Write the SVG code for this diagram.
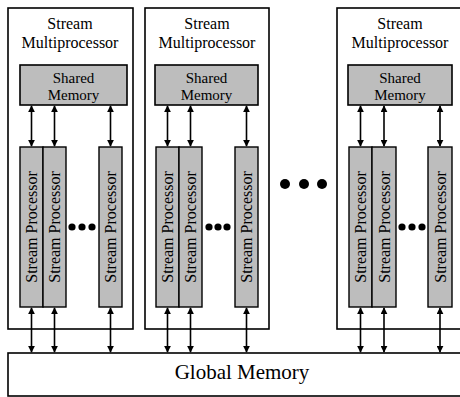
<svg xmlns="http://www.w3.org/2000/svg" width="460" height="397" viewBox="0 0 460 397">
<style>
.sm{fill:#fff;stroke:#000;stroke-width:1.6}
.shm{fill:#bdbdbd;stroke:#000;stroke-width:1.6}
.sp{fill:#bdbdbd;stroke:#000;stroke-width:1.4}
.t{font-family:"Liberation Serif","Times New Roman",serif;fill:#000;text-anchor:middle}
.h{font-size:16px}
.m{font-size:15px}
.p{font-size:16px}
.g{font-size:21px}
.c{stroke:#000;stroke-width:1.6;fill:none;marker-start:url(#ah);marker-end:url(#ah)}
</style>
<defs>
<marker id="ah" viewBox="0 0 10 10" refX="9" refY="5" markerWidth="7" markerHeight="7" markerUnits="userSpaceOnUse" orient="auto-start-reverse">
<path d="M0,0 L10,5 L0,10 z" fill="#000"/>
</marker>
</defs>
<rect width="460" height="397" fill="#fff"/>
<g id="sm1">
<rect class="sm" x="8" y="8" width="125" height="321"/>
<text class="t h" x="70" y="29">Stream</text>
<text class="t h" x="70" y="47.5">Multiprocessor</text>
<rect class="shm" x="20" y="65" width="107" height="40"/>
<text class="t m" x="73.5" y="83">Shared</text>
<text class="t m" x="73.5" y="100">Memory</text>
<rect class="sp" x="20" y="147" width="23" height="160"/>
<rect class="sp" x="43" y="147" width="23" height="160"/>
<rect class="sp" x="99" y="147" width="23" height="160"/>
<text class="t p" transform="translate(37,227) rotate(-90)">Stream Processor</text>
<text class="t p" transform="translate(60,227) rotate(-90)">Stream Processor</text>
<text class="t p" transform="translate(116,227) rotate(-90)">Stream Processor</text>
<circle cx="72" cy="227" r="3.6"/><circle cx="82" cy="227" r="3.6"/><circle cx="92" cy="227" r="3.6"/>
</g>
<g id="sm2">
<rect class="sm" x="145" y="8" width="124" height="321"/>
<text class="t h" x="207" y="29">Stream</text>
<text class="t h" x="207" y="47.5">Multiprocessor</text>
<rect class="shm" x="155" y="65" width="103" height="40"/>
<text class="t m" x="206.5" y="83">Shared</text>
<text class="t m" x="206.5" y="100">Memory</text>
<rect class="sp" x="156" y="147" width="23" height="160"/>
<rect class="sp" x="179" y="147" width="23" height="160"/>
<rect class="sp" x="235" y="147" width="23" height="160"/>
<text class="t p" transform="translate(173,227) rotate(-90)">Stream Processor</text>
<text class="t p" transform="translate(196,227) rotate(-90)">Stream Processor</text>
<text class="t p" transform="translate(252,227) rotate(-90)">Stream Processor</text>
<circle cx="209" cy="227" r="3.6"/><circle cx="218" cy="227" r="3.6"/><circle cx="227" cy="227" r="3.6"/>
</g>
<g id="sm3">
<rect class="sm" x="337" y="8" width="130" height="321"/>
<text class="t h" x="400" y="29">Stream</text>
<text class="t h" x="400" y="47.5">Multiprocessor</text>
<rect class="shm" x="348" y="65" width="104" height="40"/>
<text class="t m" x="400" y="83">Shared</text>
<text class="t m" x="400" y="100">Memory</text>
<rect class="sp" x="349" y="147" width="23" height="160"/>
<rect class="sp" x="372" y="147" width="24" height="160"/>
<rect class="sp" x="428" y="147" width="24" height="160"/>
<text class="t p" transform="translate(366,227) rotate(-90)">Stream Processor</text>
<text class="t p" transform="translate(390,227) rotate(-90)">Stream Processor</text>
<text class="t p" transform="translate(446,227) rotate(-90)">Stream Processor</text>
<circle cx="402" cy="227" r="3.6"/><circle cx="412" cy="227" r="3.6"/><circle cx="422" cy="227" r="3.6"/>
</g>
<g id="ellipsis">
<circle cx="285" cy="184" r="5"/><circle cx="304" cy="184" r="5"/><circle cx="322" cy="184" r="5"/>
</g>
<g id="global">
<rect class="sm" x="8" y="353" width="470" height="43"/>
<text class="t g" x="242" y="379">Global Memory</text>
</g>
<g id="connectors">
<line class="c" x1="31.5" y1="106" x2="31.5" y2="146"/>
<line class="c" x1="54.5" y1="106" x2="54.5" y2="146"/>
<line class="c" x1="110.5" y1="106" x2="110.5" y2="146"/>
<line class="c" x1="167.5" y1="106" x2="167.5" y2="146"/>
<line class="c" x1="190.5" y1="106" x2="190.5" y2="146"/>
<line class="c" x1="246.5" y1="106" x2="246.5" y2="146"/>
<line class="c" x1="360.5" y1="106" x2="360.5" y2="146"/>
<line class="c" x1="384" y1="106" x2="384" y2="146"/>
<line class="c" x1="440" y1="106" x2="440" y2="146"/>
<line class="c" x1="31.5" y1="308" x2="31.5" y2="352"/>
<line class="c" x1="54.5" y1="308" x2="54.5" y2="352"/>
<line class="c" x1="110.5" y1="308" x2="110.5" y2="352"/>
<line class="c" x1="167.5" y1="308" x2="167.5" y2="352"/>
<line class="c" x1="190.5" y1="308" x2="190.5" y2="352"/>
<line class="c" x1="246.5" y1="308" x2="246.5" y2="352"/>
<line class="c" x1="360.5" y1="308" x2="360.5" y2="352"/>
<line class="c" x1="384" y1="308" x2="384" y2="352"/>
<line class="c" x1="440" y1="308" x2="440" y2="352"/>
</g>
</svg>
